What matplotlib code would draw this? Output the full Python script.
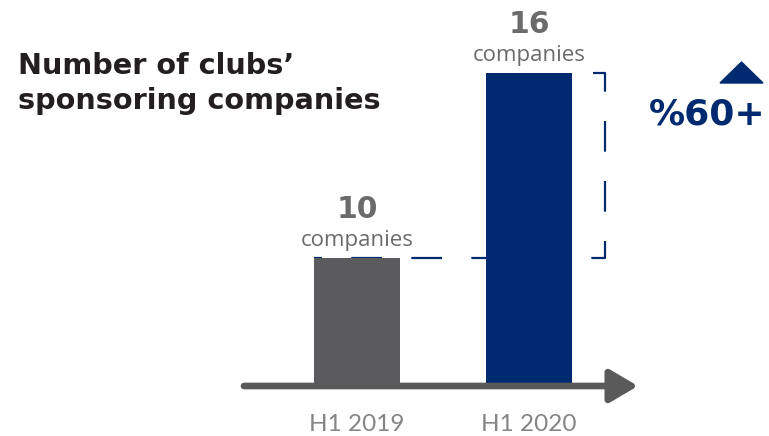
import matplotlib.pyplot as plt

# data
periods = ['H1 2019', 'H1 2020']
clubs = [10, 16]
unit = 'companies'
growth_label = '%60+'
title = 'Number of clubs\u2019\nsponsoring companies'

navy = '#002a6f'
bar_colors = ['#5b5b5d', navy]
grey_text = '#6b6b6b'

fig = plt.figure(figsize=(7.69, 4.36), dpi=100)
ax = fig.add_axes([244 / 769, 1 - 386 / 436, (638 - 244) / 769, (386 - 11) / 436])

x = list(range(len(periods)))
ax.bar(x, clubs, width=0.5, color=bar_colors, zorder=3)
ax.set_xlim(-0.657, 1.634)
ax.set_ylim(5.84, 18)

for s in ax.spines.values():
    s.set_visible(False)
ax.set_yticks([])
ax.set_xticks(x)
ax.set_xticklabels(periods, fontsize=17.5, color='#858585', family='Lato')
ax.tick_params(axis='x', length=0, pad=20)

# axis with arrow head
ax.annotate('', xy=(1, 0), xytext=(0, 0), xycoords='axes fraction',
            arrowprops=dict(arrowstyle='-|>,head_length=0.85,head_width=0.5',
                            color='#5a5a5a', lw=4.8, shrinkA=0, shrinkB=0,
                            mutation_scale=20),
            annotation_clip=False, zorder=4)

# value labels
for xi, v in zip(x, clubs):
    ax.annotate(str(v), (xi, v), xytext=(0, 28.5), textcoords='offset points',
                ha='center', va='baseline', fontsize=21.5, fontweight='bold',
                color=grey_text, family='DejaVu Sans')
    ax.annotate(unit, (xi, v), xytext=(0, 8.5), textcoords='offset points',
                ha='center', va='baseline', fontsize=16, color=grey_text,
                family='Open Sans')

# dashed bracket showing the growth
xr = x[1] + 0.25 + 0.19
ax.plot([x[1] + 0.25 + 0.12, xr, xr, x[0] - 0.25],
        [clubs[1], clubs[1], clubs[0], clubs[0]],
        color=navy, lw=1.6, dashes=(13.8, 13.2), zorder=2, clip_on=False)

fig.text(707 / 769, 1 - 124 / 436, growth_label, ha='center', va='baseline',
         fontsize=26, fontweight='bold', color=navy, family='DejaVu Sans')
fig.patches.append(plt.Polygon([(720 / 769, 1 - 83 / 436), (763 / 769, 1 - 83 / 436),
                                (741.5 / 769, 1 - 62 / 436)], closed=True,
                               transform=fig.transFigure, color=navy))

fig.text(18 / 769, 1 - 109 / 436, title, ha='left', va='baseline',
         fontsize=20.7, fontweight='bold', color='#231f20', family='DejaVu Sans',
         linespacing=1.33)

fig.savefig('out.png', dpi=100)
